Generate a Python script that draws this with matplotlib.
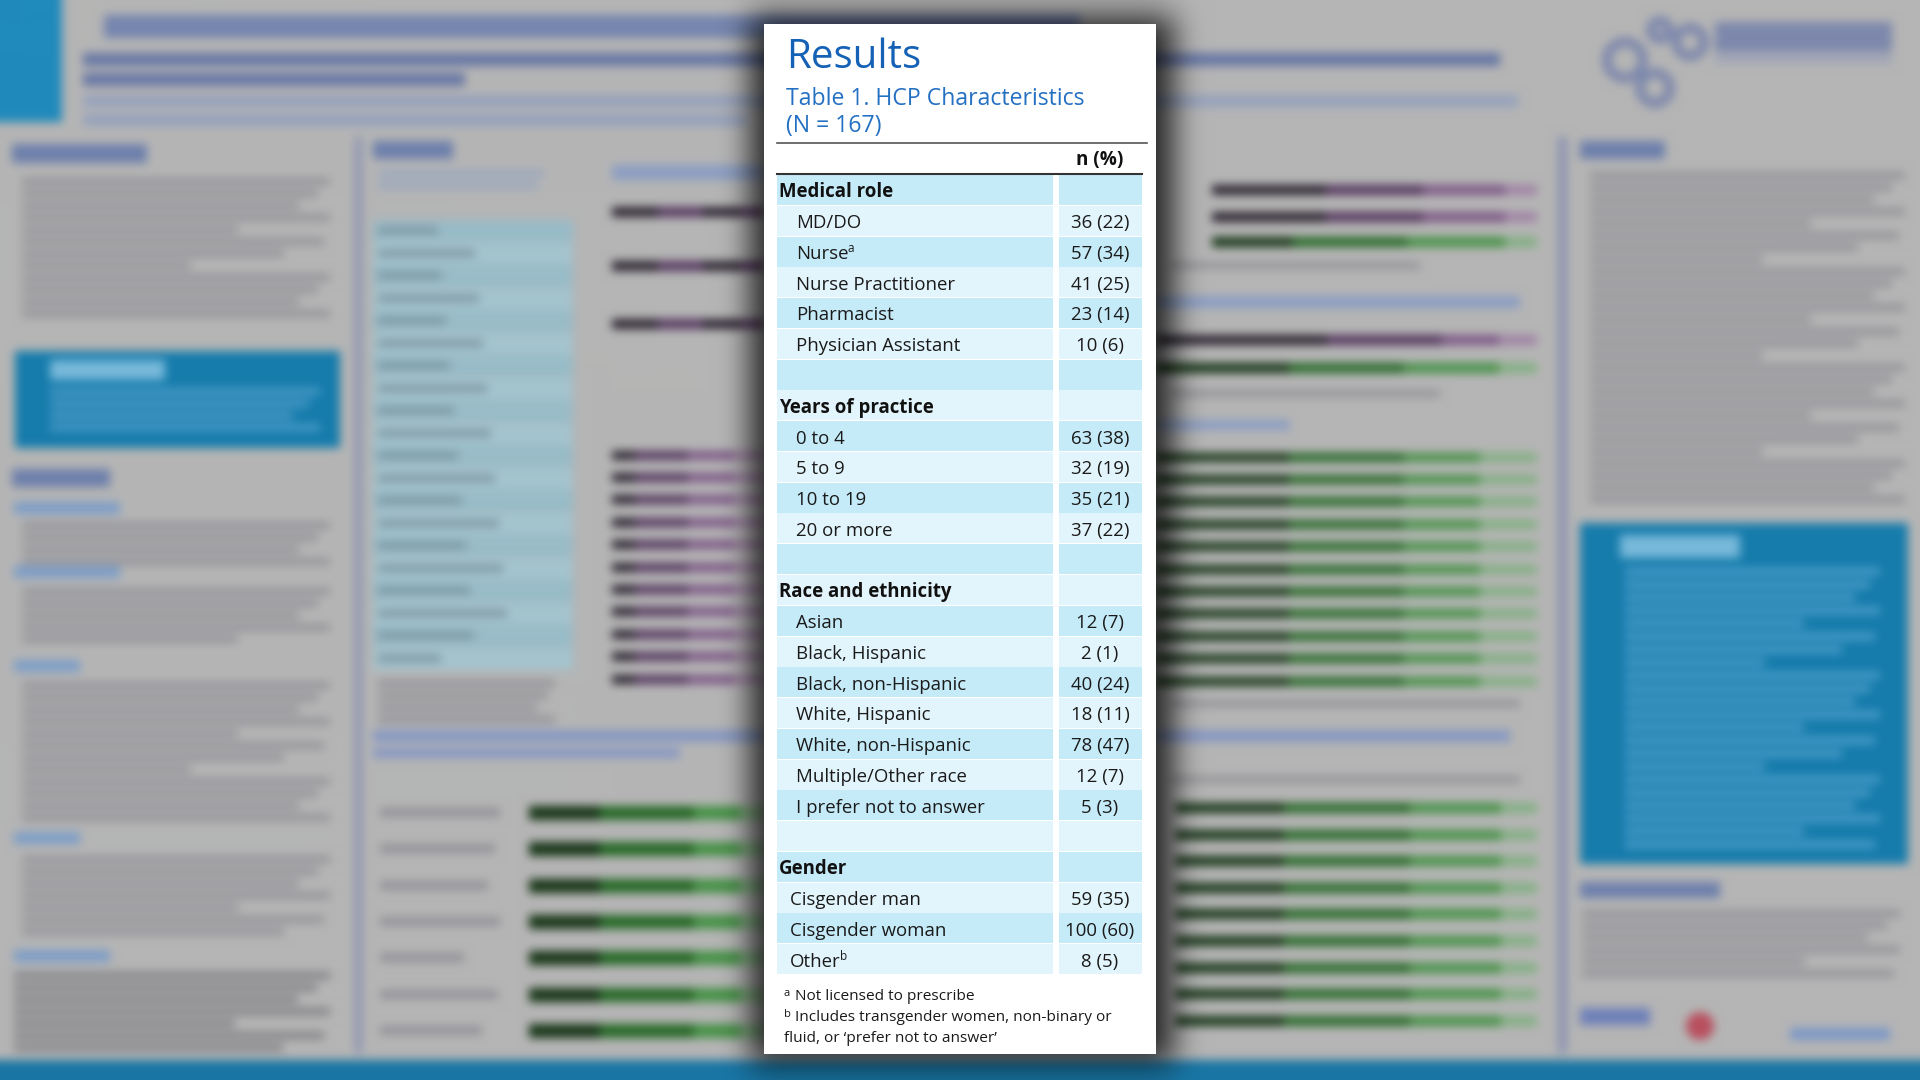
import numpy as np
import matplotlib
matplotlib.use("Agg")
import matplotlib.pyplot as plt
from matplotlib.patches import Rectangle, Circle

W, H = 1920, 1080
FONT = "Open Sans"

# ---- table data -------------------------------------------------------------
medical_role = ["MD/DO", "Nurse", "Nurse Practitioner", "Pharmacist", "Physician Assistant"]
medical_n = [36, 57, 41, 23, 10]
medical_pct = [22, 34, 25, 14, 6]

years = ["0 to 4", "5 to 9", "10 to 19", "20 or more"]
years_n = [63, 32, 35, 37]
years_pct = [38, 19, 21, 22]

race = ["Asian", "Black, Hispanic", "Black, non-Hispanic", "White, Hispanic",
        "White, non-Hispanic", "Multiple/Other race", "I prefer not to answer"]
race_n = [12, 2, 40, 18, 78, 12, 5]
race_pct = [7, 1, 24, 11, 47, 7, 3]

gender = ["Cisgender man", "Cisgender woman", "Other"]
gender_n = [59, 100, 8]
gender_pct = [35, 60, 5]

superscripts = {"Nurse": "a", "Other": "b"}
footnotes = [("a", "Not licensed to prescribe"),
             ("b", "Includes transgender women, non-binary or"),
             ("", "fluid, or \u2018prefer not to answer\u2019")]

sections = [("Medical role", medical_role, medical_n, medical_pct),
            ("Years of practice", years, years_n, years_pct),
            ("Race and ethnicity", race, race_n, race_pct),
            ("Gender", gender, gender_n, gender_pct)]


# ---- blurred poster behind the panel ---------------------------------------
def box_blur(a, r, axis):
    pad = [(0, 0)] * a.ndim
    pad[axis] = (r + 1, r)
    p = np.pad(a, pad, mode="edge")
    c = np.cumsum(p, axis=axis)
    n = a.shape[axis]
    hi = np.take(c, np.arange(2 * r + 1, 2 * r + 1 + n), axis=axis)
    lo = np.take(c, np.arange(0, n), axis=axis)
    return (hi - lo) / (2 * r + 1)


def blur(a, r, passes=3):
    for _ in range(passes):
        a = box_blur(box_blur(a, r, 0), r, 1)
    return a


def c255(*rgb):
    return tuple(v / 255 for v in rgb)


bg = plt.figure(figsize=(19.2, 10.8), dpi=100)
bg.patch.set_facecolor(c255(181, 181, 181))
bax = bg.add_axes([0, 0, 1, 1])
bax.set_xlim(0, W)
bax.set_ylim(H, 0)
bax.axis("off")


def rect(x0, y0, x1, y1, col):
    bax.add_patch(Rectangle((x0, y0), x1 - x0, y1 - y0, fc=col, ec="none"))


def text_lines(x0, x1, y0, n, step=12, h=7, col=c255(148, 148, 154)):
    fr = [1.0, 0.96, 0.9, 1.0, 0.7, 0.98, 0.85, 0.55]
    for i in range(n):
        rect(x0, y0 + i * step, x0 + (x1 - x0) * fr[i % len(fr)], y0 + i * step + h, col)


def bars(x0, x1, ys, h, cols, parts=(0.3, 0.3, 0.25, 0.15)):
    for y in ys:
        x = x0
        for p, col in zip(parts, cols):
            rect(x, y - h / 2, x + (x1 - x0) * p, y + h / 2, col)
            x += (x1 - x0) * p


BLUE_BOX = c255(22, 124, 172)
HEAD = c255(110, 128, 172)
purple = [c255(45, 38, 50), c255(85, 55, 95), c255(125, 88, 135), c255(160, 130, 165)]
green = [c255(25, 55, 25), c255(40, 105, 40), c255(70, 145, 70), c255(130, 175, 130)]

# header band
rect(0, 0, 62, 122, c255(32, 138, 188))
rect(104, 15, 1080, 38, c255(118, 134, 175))
rect(83, 53, 1500, 66, c255(105, 120, 165))
rect(83, 73, 465, 86, c255(105, 120, 165))
rect(83, 95, 1518, 107, c255(150, 162, 188))
rect(83, 114, 747, 126, c255(150, 162, 188))
for cx, cy, r in [(1625, 60, 18), (1655, 88, 15), (1690, 42, 14), (1660, 30, 9)]:
    bax.add_patch(Circle((cx, cy), r, fc="none", ec=c255(125, 136, 172), lw=7))
rect(1715, 22, 1892, 52, c255(125, 136, 172))
rect(1715, 56, 1892, 62, c255(150, 158, 185))

# left column
rect(12, 144, 147, 163, HEAD)
text_lines(22, 330, 178, 12)
rect(15, 351, 340, 448, BLUE_BOX)
rect(50, 360, 165, 380, c255(120, 185, 218))
text_lines(50, 320, 388, 4, col=c255(75, 155, 198))
rect(12, 469, 110, 487, HEAD)
rect(14, 502, 120, 514, c255(125, 158, 200))
text_lines(22, 330, 522, 4)
rect(14, 566, 120, 578, c255(125, 158, 200))
text_lines(22, 330, 588, 5)
rect(14, 660, 80, 672, c255(125, 158, 200))
text_lines(22, 330, 682, 12)
rect(14, 832, 80, 844, c255(125, 158, 200))
text_lines(22, 330, 856, 7)
rect(14, 950, 110, 962, c255(125, 158, 200))
text_lines(14, 330, 972, 7, col=c255(130, 130, 135))
rect(355, 137, 362, 1053, c255(140, 148, 178))

# middle-left area
rect(373, 141, 453, 159, HEAD)
text_lines(378, 545, 170, 2, col=c255(155, 168, 190))
for i in range(20):
    y = 220 + i * 22.5
    col = c255(152, 188, 200) if i % 2 == 0 else c255(164, 196, 206)
    rect(373, y, 573, y + 22, col)
    rect(378, y + 7, 378 + (60 + (i * 37) % 70), y + 14, c255(125, 150, 162))
text_lines(378, 555, 680, 4)
rect(612, 165, 764, 180, c255(140, 158, 195))
bars(612, 764, [212, 266, 324], 10, purple[:2] + purple[:2])
rect(373, 730, 764, 742, c255(135, 152, 195))
rect(373, 748, 680, 758, c255(135, 152, 195))
bars(612, 764, [455 + i * 22.4 for i in range(11)], 9, purple, parts=(0.15, 0.35, 0.3, 0.2))
bars(529, 764, [813 + i * 36.3 for i in range(7)], 14, green, parts=(0.3, 0.4, 0.2, 0.1))
text_lines(380, 500, 808, 7, step=36.3, h=9)

# right of panel
bars(1212, 1537, [190, 217], 10, purple, parts=(0.35, 0.3, 0.25, 0.1))
bars(1212, 1537, [242], 10, green, parts=(0.25, 0.35, 0.3, 0.1))
text_lines(1170, 1420, 262, 1)
rect(1156, 296, 1520, 308, c255(140, 158, 195))
bars(1156, 1537, [340], 10, purple, parts=(0.45, 0.3, 0.15, 0.1))
bars(1156, 1537, [368], 10, green, parts=(0.35, 0.3, 0.25, 0.1))
text_lines(1170, 1440, 390, 1)
rect(1156, 420, 1290, 430, c255(140, 158, 195))
bars(1156, 1537, [457 + i * 22.4 for i in range(11)], 9, green, parts=(0.35, 0.3, 0.2, 0.15))
text_lines(1170, 1520, 700, 1)
rect(1156, 730, 1510, 742, c255(135, 152, 195))
text_lines(1170, 1520, 776, 1)
bars(1175, 1537, [808 + i * 26.6 for i in range(9)], 10, green, parts=(0.3, 0.35, 0.25, 0.1))

# right column
rect(1558, 137, 1567, 1053, c255(140, 148, 178))
rect(1580, 141, 1665, 159, HEAD)
text_lines(1590, 1905, 172, 28)
rect(1580, 523, 1908, 864, BLUE_BOX)
rect(1620, 535, 1740, 558, c255(120, 185, 218))
text_lines(1625, 1880, 568, 22, step=13, col=c255(78, 158, 202))
rect(1580, 882, 1720, 898, HEAD)
text_lines(1582, 1900, 910, 6)
rect(1580, 1008, 1650, 1025, c255(110, 128, 185))
bax.add_patch(Circle((1700, 1026), 14, fc=c255(185, 80, 95), ec="none"))
rect(1790, 1028, 1890, 1040, c255(125, 152, 200))
rect(0, 1060, W, H, c255(25, 118, 165))

bg.canvas.draw()
bg_img = np.asarray(bg.canvas.buffer_rgba())[..., :3].astype(float) / 255
plt.close(bg)
bg_img = blur(bg_img, 4)

# drop shadow of the panel
px0, py0, px1, py1 = 764, 24, 1156, 1054
mask = np.zeros((H, W))
mask[py0 - 8:py1 + 10, px0 - 14:px1 + 18] = 1.0
mask = blur(mask, 14)
bg_img = bg_img * (1 - 0.78 * mask[..., None])

# ---- main figure -------------------------------------------------------------
fig = plt.figure(figsize=(19.2, 10.8), dpi=100)
ax = fig.add_axes([0, 0, 1, 1])
ax.imshow(np.clip(bg_img, 0, 1), extent=(0, W, H, 0), interpolation="bilinear")
ax.set_xlim(0, W)
ax.set_ylim(H, 0)
ax.axis("off")
renderer = fig.canvas.get_renderer()

ax.add_patch(Rectangle((px0, py0), px1 - px0, py1 - py0, fc="white", ec="none"))

ax.text(786, 68, "Results", fontsize=29, color="#1461b5", family=FONT, va="baseline")
ax.text(786, 105, "Table 1. HCP Characteristics", fontsize=16.6, color="#2470c2", family=FONT, va="baseline")
ax.text(786, 132, "(N = 167)", fontsize=16.6, color="#2470c2", family=FONT, va="baseline")
ax.plot([777, 1147], [143, 143], color="#555555", lw=1.2)
ax.text(1100, 165, "n (%)", fontsize=13.6, fontweight="bold", color="#111111", family=FONT,
        ha="center", va="baseline")
ax.plot([777, 1142], [174, 174], color="#333333", lw=1.5)

# build the rows
rows = []
for k, (title, labels, ns, pcts) in enumerate(sections):
    rows.append(("head", title, ""))
    for lab, n, p in zip(labels, ns, pcts):
        rows.append(("item" if title != "Gender" else "item2", lab, f"{n} ({p})"))
    if k < len(sections) - 1:
        rows.append(("blank", "", ""))

top, row_h = 175, (975 - 175) / len(rows)
dark, light = "#c6ebf8", "#e3f5fc"
for i, (kind, lab, val) in enumerate(rows):
    y = top + i * row_h
    col = dark if i % 2 == 0 else light
    ax.add_patch(Rectangle((777, y), 1053 - 777, row_h - 0.8, fc=col, ec="none"))
    ax.add_patch(Rectangle((1059, y), 1142 - 1059, row_h - 0.8, fc=col, ec="none"))
    base = y + row_h / 2 + 7
    if kind == "head":
        ax.text(779, base, lab, fontsize=13.4, fontweight="bold", color="#111111",
                family=FONT, va="baseline")
    elif kind in ("item", "item2"):
        x = 796 if kind == "item" else 790
        t = ax.text(x, base, lab, fontsize=13.4, color="#1a1a1a", family=FONT, va="baseline")
        if lab in superscripts:
            bb = t.get_window_extent(renderer)
            ax.text(bb.x1 - 1, base - 7, superscripts[lab], fontsize=8.5, color="#1a1a1a",
                    family=FONT, va="baseline")
        ax.text(1100, base, val, fontsize=13.4, color="#1a1a1a", family=FONT,
                ha="center", va="baseline")

for i, (sup, txt) in enumerate(footnotes):
    base = 1000 + i * 21
    if sup:
        ax.text(784, base - 4, sup, fontsize=8, color="#1a1a1a", family=FONT, va="baseline")
        ax.text(795, base, txt, fontsize=11.1, color="#1a1a1a", family=FONT, va="baseline")
    else:
        ax.text(784, base, txt, fontsize=11.1, color="#1a1a1a", family=FONT, va="baseline")

fig.savefig("out.png", dpi=100)
